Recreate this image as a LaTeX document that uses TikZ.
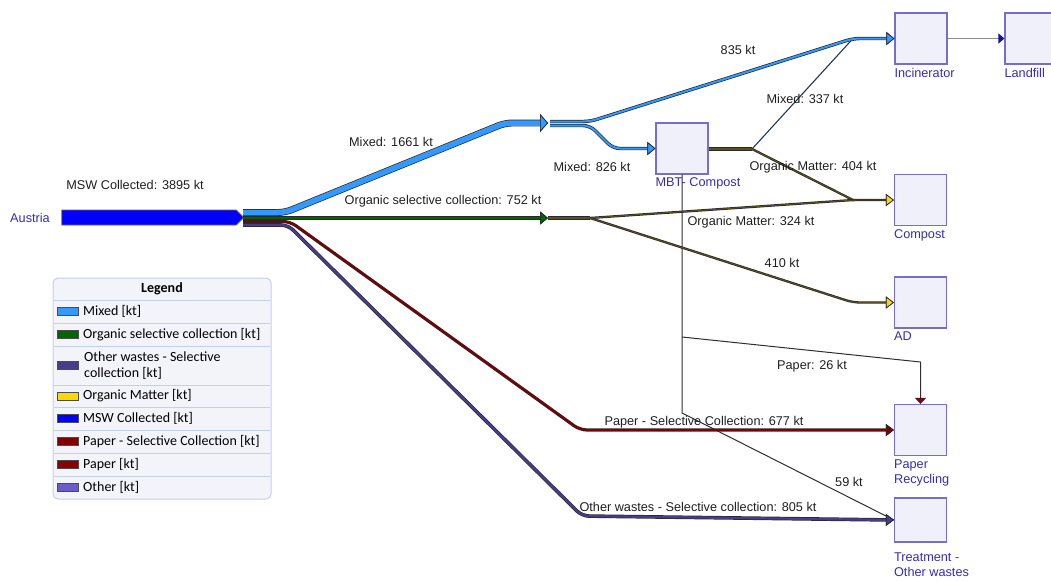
\documentclass[tikz,border=0pt]{standalone}
\usepackage{fontspec}
\usepackage{tikz}
\usepackage{xcolor}
\usetikzlibrary{arrows.meta,shapes.symbols}
\setmainfont{Liberation Sans}
\newfontfamily\legendfont{Carlito}

\definecolor{mixedc}{RGB}{51,153,255}
\definecolor{organicc}{RGB}{0,100,0}
\definecolor{otherselc}{RGB}{72,61,139}
\definecolor{matterc}{RGB}{255,215,0}
\definecolor{matterline}{RGB}{90,82,30}
\definecolor{mswc}{RGB}{0,0,255}
\definecolor{paperselc}{RGB}{128,0,0}
\definecolor{paperc}{RGB}{139,0,0}
\definecolor{otherc}{RGB}{106,90,205}
\definecolor{boxdraw}{RGB}{120,110,200}
\definecolor{boxfill}{RGB}{240,240,250}
\definecolor{boxtext}{RGB}{55,45,170}
\definecolor{flowedge}{RGB}{40,40,45}
\definecolor{mixthin}{RGB}{35,55,75}
\definecolor{landc}{RGB}{20,20,140}
\definecolor{legendfill}{RGB}{243,244,250}
\definecolor{legendrule}{RGB}{195,208,232}

\tikzset{
    %Define style for process boxes
    processbox/.style={
           rectangle,
           draw=boxdraw, line width=1.2pt,
           fill=boxfill,
           minimum width=52pt,
           minimum height=51pt,
           inner sep=0pt},
    boxlabel/.style={
           anchor=north west,
           text=boxtext,
           inner sep=0pt,
           align=left,
           font=\fontsize{12.7}{15}\selectfont},
    %Flow lines: coloured core on a dark edge
    flow/.style 2 args={
           draw=#1, line width=#2,
           rounded corners=7pt,
           preaction={draw=flowedge, line width=#2+1.4pt, -}},
    flowto/.style n args={4}{
           draw=#1, line width=#2,
           rounded corners=7pt,
           -{Triangle[length=8pt,width=#3,fill=#4,color=flowedge,line width=0.7pt]},
           preaction={draw=flowedge, line width=#2+1.4pt,
                      -{Triangle[length=8pt,width=#3,fill=#4,color=flowedge,line width=0.7pt]}}},
    thinflow/.style={draw=black!82, line width=1pt},
    flowlabel/.style={text=black!88, inner sep=1pt, font=\fontsize{12.7}{15}\selectfont},
    %Legend entries
    legendbox/.style={
           rectangle, rounded corners=5pt,
           draw=legendrule, line width=1pt,
           fill=legendfill,
           minimum width=218pt,
           minimum height=221pt},
    legendtext/.style={anchor=west, inner sep=0pt, align=left,
           font=\legendfont\fontsize{14}{16}\selectfont},
    swatch/.style={rectangle, draw=black!70, line width=0.8pt, fill=#1,
           minimum width=21pt, minimum height=8pt, inner sep=0pt}
}

\begin{document}
\begin{tikzpicture}[x=1pt, y=-1pt]
\useasboundingbox (0,0) rectangle (1051,581);

%Processes
\node[processbox] (incinerator) at (921,38.5) {};
\node[processbox] (landfill) at (1031,38.5) {};
\node[processbox] (mbt) at (682,148.5) {};
\node[processbox] (compost) at (920.5,200) {};
\node[processbox] (ad) at (920.5,302.5) {};
\node[processbox] (paperrec) at (920.5,430) {};
\node[processbox, minimum height=44pt] (treatment) at (920.5,520) {};
\node[boxlabel] at ([yshift=-3pt]incinerator.south west) {Incinerator};
\node[boxlabel] at ([yshift=-3pt]landfill.south west) {Landfill};
\node[boxlabel] at ([yshift=-3pt]mbt.south west) {MBT- Compost};
\node[boxlabel] at ([yshift=-3pt]compost.south west) {Compost};
\node[boxlabel] at ([yshift=-3pt]ad.south west) {AD};
\node[boxlabel] at ([yshift=-3pt]paperrec.south west) {Paper\\Recycling};
\node[boxlabel] at ([yshift=-10pt]treatment.south west) {Treatment -\\Other wastes};

%Source
\node[text=boxtext, font=\fontsize{12.7}{15}\selectfont] (austria) at (30,218) {Austria};
\node[signal, signal to=east, draw=black!60, line width=0.8pt, fill=mswc,
      minimum width=182pt, minimum height=15pt, inner sep=0pt] (msw) at (149,217.5) {};

%Waypoints of the flows
\coordinate (mixA) at (243,212.5);
\coordinate (mixB) at (285,212.5);
\coordinate (mixC) at (505,123);
\coordinate (mixEnd) at (548,123);
\coordinate (orgA) at (243,218);
\coordinate (orgEnd) at (548,218);
\coordinate (orgB) at (590,218);
\coordinate (papA) at (243,221.5);
\coordinate (papB) at (290,221.5);
\coordinate (papC) at (580,430);
\coordinate (othA) at (243,225);
\coordinate (othB) at (288,225);
\coordinate (othC) at (582,516);
\coordinate (incA) at (550,121.5);
\coordinate (incB) at (590,121.5);
\coordinate (incM) at (853,38.5);
\coordinate (mbtA) at (550,125.5);
\coordinate (mbtB) at (590,125.5);
\coordinate (mbtC) at (613,148.5);
\coordinate (mbtOut) at (752,149);
\coordinate (cmpM) at (853,200);
\coordinate (adM) at (853,302.5);
\coordinate (papBranch) at (682,337);
\coordinate (papCorner) at (920.5,362);
\coordinate (mbtDrop) at (682,413);

%Thin flows out of MBT
\draw[thinflow] (mbt.south) -- (mbtDrop) -- (treatment.west);
\draw[thinflow, -{Triangle[length=6pt,width=11pt,fill=paperc,color=flowedge,line width=0.5pt]}]
     (papBranch) -- (papCorner) -- (paperrec.north);
\draw[draw=mixthin, line width=1.1pt] (mbtOut) -- (incM);
\draw[draw=black!45, line width=1.4pt,
      -{Triangle[length=6pt,width=10pt,fill=landc,color=landc]}] (incinerator.east) -- (landfill.west);

%Collected waste streams
\draw[flowto={paperselc}{1.8pt}{12pt}{paperselc}] (papA) -- (papB) -- (papC) -- (paperrec.west);
\draw[flowto={otherselc}{2.2pt}{12pt}{otherselc}] (othA) -- (othB) -- (othC) -- (treatment.west);
\draw[flowto={organicc}{2pt}{13pt}{organicc}] (orgA) -- (orgEnd);
\draw[flowto={mixedc}{5.5pt}{18pt}{mixedc}] (mixA) -- (mixB) -- (mixC) -- (mixEnd);

%Mixed split
\draw[flowto={mixedc}{2pt}{13pt}{mixedc}] (incA) -- (incB) -- (incM) -- (incinerator.west);
\draw[flowto={mixedc}{2pt}{13pt}{mixedc}] (mbtA) -- (mbtB) -- (mbtC) -- (mbt.west);

%Organic matter
\draw[flow={matterline}{2pt}] (mbt.east |- mbtOut) -- (mbtOut);
\draw[flow={matterline}{0.9pt}] (mbtOut) -- (cmpM);
\draw[flow={matterline}{2pt}] (orgEnd) -- (orgB);
\draw[flowto={matterline}{0.9pt}{12pt}{matterc}] (orgB) -- (cmpM) -- (compost.west);
\draw[flowto={matterline}{0.9pt}{12pt}{matterc}] (orgB) -- (adM) -- (ad.west);

%Flow labels
\node[flowlabel] (lmsw) at (135,185) {MSW Collected: 3895 kt};
\node[flowlabel] (lmixed) at (391,142) {Mixed: 1661 kt};
\node[flowlabel] (lorganic) at (443,201) {Organic selective collection: 752 kt};
\node[flowlabel] (linc) at (738,50) {835 kt};
\node[flowlabel] (lmbtmix) at (805,99) {Mixed: 337 kt};
\node[flowlabel] (lmixmbt) at (592,167) {Mixed: 826 kt};
\node[flowlabel] (lmatter) at (813,167) {Organic Matter: 404 kt};
\node[flowlabel] (lmatterb) at (751,222) {Organic Matter: 324 kt};
\node[flowlabel] (lad) at (782,263) {410 kt};
\node[flowlabel] (lpaper) at (812,366) {Paper: 26 kt};
\node[flowlabel] (lpapersel) at (704,422) {Paper - Selective Collection: 677 kt};
\node[flowlabel] (lother) at (849,482) {59 kt};
\node[flowlabel] (lothersel) at (698,507) {Other wastes - Selective collection: 805 kt};

%Legend
\node[legendbox] (legend) at (162,388.5) {};
\node[font=\legendfont\bfseries\fontsize{14}{16}\selectfont] (legendhead) at (162,289) {Legend};
\foreach \y in {300,323,346,385,407,430,453,476}
    \draw[legendrule, line width=0.8pt] (54,\y) -- (270,\y);
\node[swatch=mixedc] (smixed) at (68,311.5) {};
\node[legendtext] at (83,311.5) {Mixed [kt]};
\node[swatch=organicc] (sorganic) at (68,334.5) {};
\node[legendtext] at (83,334.5) {Organic selective collection [kt]};
\node[swatch=otherselc] (sothersel) at (68,365.5) {};
\node[legendtext] at (84,365.5) {Other wastes - Selective\\collection [kt]};
\node[swatch=matterc] (smatter) at (68,396) {};
\node[legendtext] at (83,396) {Organic Matter [kt]};
\node[swatch=mswc] (smsw) at (68,418.5) {};
\node[legendtext] at (83,418.5) {MSW Collected [kt]};
\node[swatch=paperselc] (spapersel) at (68,441.5) {};
\node[legendtext] at (83,441.5) {Paper - Selective Collection [kt]};
\node[swatch=paperc] (spaper) at (68,464.5) {};
\node[legendtext] at (83,464.5) {Paper [kt]};
\node[swatch=otherc] (sother) at (68,487.5) {};
\node[legendtext] at (83,487.5) {Other [kt]};
\end{tikzpicture}
\end{document}
